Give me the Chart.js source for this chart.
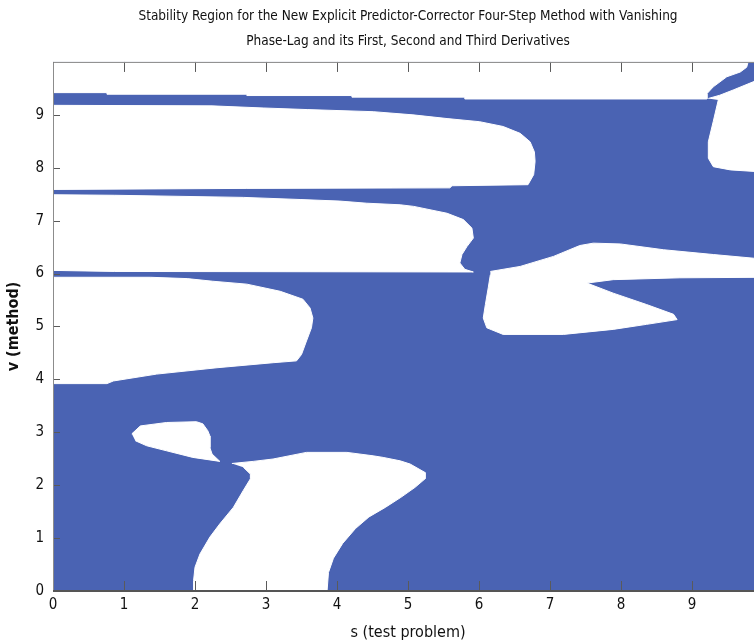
<!DOCTYPE html>
<html>
<head>
<meta charset="utf-8">
<title>Stability Region</title>
<script src="https://cdn.jsdelivr.net/npm/chart.js@4.4.1/dist/chart.umd.min.js"></script>
<style>
  html, body { margin: 0; padding: 0; background: #fff; overflow: hidden; }
  #stabilityWrapper { width: 754px; height: 644px; overflow: hidden; }
</style>
</head>
<body>
<div id="stabilityWrapper"><canvas id="stability" width="770" height="644"></canvas></div>
<script>
// tick labels
const sTicks = [0, 1, 2, 3, 4, 5, 6, 7, 8, 9];
const vTicks = [0, 1, 2, 3, 4, 5, 6, 7, 8, 9];

const titleLines = [
  'Stability Region for the New Explicit Predictor-Corrector Four-Step Method with Vanishing',
  'Phase-Lag and its First, Second and Third Derivatives'
];

// white (unstable) regions, outlines as [s, v]
const topStrip = [[0, 10], [9.79, 10], [9.77, 9.9], [9.68, 9.81], [9.49, 9.72], [9.30, 9.53], [9.21, 9.40],
  [9.21, 9.30], [5.80, 9.30], [5.80, 9.335], [4.21, 9.335], [4.21, 9.365], [2.73, 9.365], [2.73, 9.39],
  [0.76, 9.39], [0.76, 9.42], [0, 9.42]];

const upperPocket = [[0, 9.18], [2.24, 9.17], [2.96, 9.13], [3.58, 9.10], [4.51, 9.06], [5.07, 9.00], [5.55, 8.93],
  [6.01, 8.87], [6.34, 8.78], [6.58, 8.65], [6.72, 8.49], [6.78, 8.30], [6.79, 8.12], [6.77, 7.87], [6.69, 7.68],
  [5.62, 7.66], [5.59, 7.62], [2.73, 7.61], [0, 7.59]];

const middlePocket = [[0, 7.49], [0.87, 7.48], [2.68, 7.44], [3.48, 7.40], [4.04, 7.37], [4.42, 7.33], [4.89, 7.30],
  [5.08, 7.27], [5.55, 7.14], [5.78, 7.02], [5.90, 6.86], [5.92, 6.67], [5.83, 6.51], [5.76, 6.36], [5.73, 6.20],
  [5.80, 6.08], [5.92, 6.03], [0.87, 6.04], [0, 6.06]];

const lowerPocket = [[0, 5.93], [1.37, 5.93], [1.89, 5.905], [2.25, 5.855], [2.73, 5.80], [3.20, 5.665], [3.52, 5.515],
  [3.62, 5.35], [3.66, 5.16], [3.64, 4.975], [3.57, 4.725], [3.50, 4.47], [3.43, 4.35], [3.10, 4.315], [2.31, 4.22],
  [1.46, 4.10], [0.85, 3.97], [0.76, 3.92], [0, 3.92]];

const smallIsland = [[1.11, 2.97], [1.23, 3.12], [1.60, 3.185], [2.02, 3.20], [2.11, 3.16], [2.18, 3.03], [2.21, 2.93],
  [2.21, 2.71], [2.24, 2.59], [2.35, 2.45], [1.97, 2.525], [1.60, 2.65], [1.32, 2.745], [1.16, 2.84]];

const bottomLobe = [[2.52, 2.41], [2.82, 2.45], [3.10, 2.495], [3.57, 2.62], [4.14, 2.62], [4.51, 2.555], [4.65, 2.525],
  [4.89, 2.46], [5.03, 2.40], [5.24, 2.24], [5.24, 2.12], [5.10, 1.96], [4.90, 1.77], [4.68, 1.58], [4.45, 1.40],
  [4.26, 1.18], [4.08, 0.90], [3.95, 0.62], [3.88, 0.35], [3.86, 0], [1.98, 0], [1.98, 0.20], [2.00, 0.45],
  [2.07, 0.70], [2.21, 1.02], [2.35, 1.27], [2.54, 1.58], [2.68, 1.90], [2.78, 2.12], [2.78, 2.21], [2.68, 2.34]];

const cornerPocket = [[9.23, 9.31], [9.39, 9.37], [9.58, 9.47], [10, 9.70], [10, 7.92], [9.54, 7.96], [9.30, 8.02],
  [9.23, 8.18], [9.23, 8.49], [9.30, 8.88], [9.37, 9.28]];

const rightWedge = [[6.16, 6.04], [6.58, 6.135], [7.05, 6.325], [7.42, 6.53], [7.61, 6.575], [7.99, 6.56], [8.60, 6.45],
  [9.30, 6.36], [9.87, 6.29], [10, 6.27], [10, 5.93], [8.83, 5.92], [7.89, 5.885], [7.52, 5.82], [7.89, 5.63],
  [8.36, 5.415], [8.74, 5.23], [8.79, 5.13], [8.36, 5.04], [7.89, 4.945], [7.19, 4.85], [6.34, 4.85], [6.11, 4.975],
  [6.06, 5.16], [6.09, 5.415], [6.13, 5.73], [6.16, 5.98]];

const regions = [topStrip, upperPocket, middlePocket, lowerPocket, smallIsland, bottomLobe, cornerPocket, rightWedge];

const stableColor = '#4a63b3';
const narrowFont = '"Liberation Sans Narrow", "DejaVu Sans Condensed", "Arial Narrow", sans-serif';

// blue background + matlab style box with inward ticks
const boxPlugin = {
  id: 'box',
  beforeDraw(chart) {
    const {ctx, chartArea: a} = chart;
    ctx.save();
    ctx.fillStyle = stableColor;
    ctx.fillRect(a.left, a.top, a.right - a.left, a.bottom - a.top);
    ctx.restore();
  },
  afterDraw(chart) {
    const {ctx, chartArea: a, scales: {x, y}} = chart;
    ctx.save();
    ctx.lineWidth = 1;
    ctx.strokeStyle = '#5a5a5a';
    ctx.beginPath();
    sTicks.forEach(s => {
      const px = Math.round(x.getPixelForValue(s)) + 0.5;
      ctx.moveTo(px, a.bottom); ctx.lineTo(px, a.bottom - 10);
      ctx.moveTo(px, a.top); ctx.lineTo(px, a.top + 10);
    });
    vTicks.forEach(v => {
      const py = Math.round(y.getPixelForValue(v)) + 0.5;
      ctx.moveTo(a.left, py); ctx.lineTo(a.left + 7, py);
    });
    ctx.stroke();

    ctx.strokeStyle = '#8c8c8c';
    ctx.beginPath();
    ctx.moveTo(a.left + 0.5, a.bottom); ctx.lineTo(a.left + 0.5, a.top + 0.5);
    ctx.lineTo(a.right, a.top + 0.5); ctx.lineTo(a.right, a.bottom);
    ctx.stroke();

    ctx.strokeStyle = '#555';
    ctx.lineWidth = 2;
    ctx.beginPath();
    ctx.moveTo(a.left, a.bottom); ctx.lineTo(a.right, a.bottom);
    ctx.stroke();
    ctx.restore();
  }
};

const config = {
  type: 'line',
  data: {
    datasets: regions.map(r => ({
      data: r.map(([s, v]) => ({x: s, y: v})),
      fill: 'shape',
      backgroundColor: '#ffffff',
      borderColor: '#ffffff',
      borderWidth: 1,
      pointRadius: 0,
      pointHoverRadius: 0,
      tension: 0
    }))
  },
  options: {
    responsive: false,
    animation: false,
    devicePixelRatio: 1,
    events: [],
    layout: { padding: { left: 0, right: 7, top: 0, bottom: 0 } },
    plugins: {
      legend: { display: false },
      tooltip: { enabled: false },
      title: {
        display: true,
        text: titleLines,
        fullSize: false,
        color: '#111',
        font: { family: narrowFont, size: 13.5, weight: 'normal', lineHeight: 1.85 },
        padding: { top: 4, bottom: 8 }
      }
    },
    scales: {
      x: {
        type: 'linear',
        min: 0,
        max: 10,
        afterBuildTicks: scale => { scale.ticks = sTicks.map(v => ({value: v})); },
        afterFit: scale => { scale.height = 53; },
        grid: { display: false, drawTicks: false },
        border: { display: false },
        ticks: { color: '#111', padding: 5, maxRotation: 0, font: { family: narrowFont, size: 15 } },
        title: {
          display: true,
          text: 's (test problem)',
          color: '#111',
          font: { family: narrowFont, size: 16, lineHeight: 1.2 },
          padding: { top: 2, bottom: 1.5 }
        }
      },
      y: {
        type: 'linear',
        min: 0,
        max: 10,
        afterBuildTicks: scale => { scale.ticks = vTicks.map(v => ({value: v})); },
        afterFit: scale => { scale.width = 53; },
        grid: { display: false, drawTicks: false },
        border: { display: false },
        ticks: { color: '#111', padding: 9, font: { family: narrowFont, size: 15 } },
        title: {
          display: true,
          text: 'v (method)',
          color: '#111',
          font: { family: narrowFont, size: 16, weight: 'bold', lineHeight: 1.2 },
          padding: { top: 4, bottom: 2 }
        }
      }
    }
  },
  plugins: [boxPlugin]
};

const chart = new Chart(document.getElementById('stability'), config);
</script>
</body>
</html>
